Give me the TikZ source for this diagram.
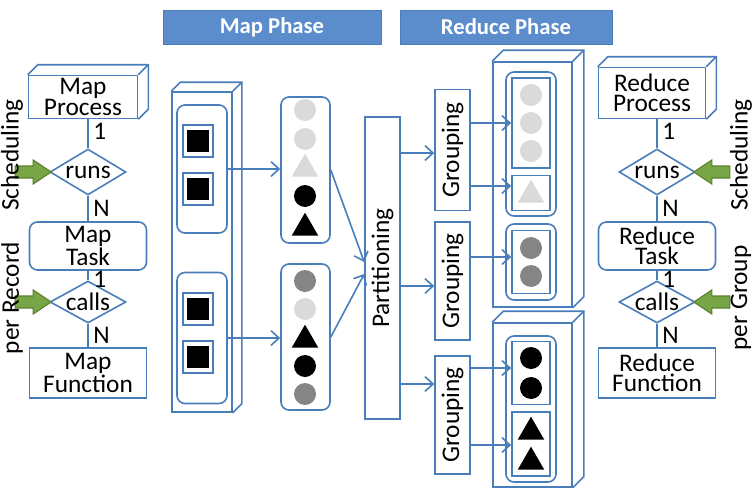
\documentclass[tikz,border=0pt]{standalone}
\usepackage{fontspec}
\setmainfont{Carlito}
\usetikzlibrary{shapes.geometric,calc,arrows.meta}
\definecolor{bl}{HTML}{4A7EBB}
\definecolor{hd}{HTML}{5B8DCC}
\definecolor{gr}{HTML}{78A545}
\definecolor{grd}{HTML}{5A8030}
\definecolor{lg}{HTML}{DADADA}
\definecolor{mg}{HTML}{858585}
\newcommand\cubeit[2]{\draw[ln] (#1.north west) -- ++(#2,-#2) -- ($(#1.north east)+(#2,-#2)$) -- ($(#1.south east)+(#2,-#2)$) -- (#1.south east); \draw[ln] (#1.north east) -- ++(#2,-#2);}
\begin{document}
\begin{tikzpicture}[x=0.75pt,y=-0.75pt,font=\fontsize{19}{15}\selectfont,
  ln/.style={draw=bl,line width=1.2pt},
  sz/.style 2 args={minimum width=#1*0.75pt,minimum height=#2*0.75pt},
  box/.style={ln,rectangle,inner sep=0pt,align=center,fill=white},
  rbox/.style={box,rounded corners=6pt},
  dia/.style={ln,diamond,inner sep=0pt,fill=white},
  dt/.style={inner sep=0pt},
  head/.style={rectangle,fill=hd,draw=bl,text=white,font=\fontsize{17}{17}\selectfont\bfseries,inner sep=0pt},
  arr/.style={draw=bl,line width=1.2pt,-{Straight Barb[length=6pt,width=11pt]}},
  garrow/.style={fill=gr,draw=grd,line width=0.8pt},
  lc/.style={circle,fill=lg,inner sep=0pt,minimum size=16.5pt},
  mc/.style={circle,fill=mg,inner sep=0pt,minimum size=16.5pt},
  kc/.style={circle,fill=black,inner sep=0pt,minimum size=16.5pt},
  lt/.style={regular polygon,regular polygon sides=3,fill=lg,inner sep=0pt,minimum size=23pt},
  kt/.style={regular polygon,regular polygon sides=3,fill=black,inner sep=0pt,minimum size=23pt},
  num/.style={anchor=west,inner sep=0pt},
  side/.style={rotate=90,font=\fontsize{19}{19}\selectfont}]
\useasboundingbox (0,0) rectangle (753,489);
% headers
\node[head,sz={218}{34}] (hm) at (272,27) {Map Phase};
\node[head,sz={212}{34}] (hr) at (506,27) {Reduce Phase};
% left column
\node[box,sz={109}{43}] (mp) at (83,97) {Map\\Process};
\cubeit{mp}{10}
\node[dia,sz={76}{46}] (r1) at (88,172) {};
\node[dt] (r1t) at (r1) {runs};
\node[rbox,sz={117}{48}] (mt) at (88,246) {Map\\Task};
\node[dia,sz={76}{42}] (c1) at (88,302) {};
\node[dt] (c1t) at (c1) {calls};
\node[box,sz={117}{50}] (mf) at (88,373) {Map\\Function};
\draw[ln] (r1.north |- mp.south) -- (r1.north);
\draw[ln] (r1.south) -- (mt.north);
\draw[ln] (mt.south) -- (c1.north);
\draw[ln] (c1.south) -- (mf.north);
\node[num] (n1) at (93,131) {1};
\node[num] (n2) at (93,208) {N};
\node[num] (n3) at (93,279) {1};
\node[num] (n4) at (93,335) {N};
\draw[garrow] ($(r1.west)+(-34,-6)$) -- ++(18,0) -- ++(0,-6) -- ($(r1.west)+(2,0)$) -- ($(r1.west)+(-16,12)$) -- ++(0,-6) -- ++(-18,0) -- cycle;
\draw[garrow] ($(c1.west)+(-34,-6)$) -- ++(18,0) -- ++(0,-6) -- ($(c1.west)+(2,0)$) -- ($(c1.west)+(-16,12)$) -- ++(0,-6) -- ++(-18,0) -- cycle;
\node[side] (s1) at (12,155) {Scheduling};
\node[side] (s2) at (12,298) {per Record};
% map phase
\node[box,sz={60}{320}] (mb) at (202,252) {};
\cubeit{mb}{9}
\node[rbox,sz={50}{128}] (mi1) at (202,169) {};
\node[rbox,sz={50}{131}] (mi2) at (202,338) {};
\foreach \i/\y in {1/141,2/189,3/309,4/357}{
  \node[box,sz={30}{32}] (sq\i) at (198,\y) {};
  \node[fill=black,inner sep=0pt,minimum size=16pt] (bk\i) at (sq\i) {};
}
\node[rbox,sz={49}{146}] (l1) at (305.5,170) {};
\node[rbox,sz={49}{146}] (l2) at (305.5,337) {};
\node[lc] (u1) at (305,110) {};
\node[lc] (u2) at (305,139) {};
\node[lt] (u3) at (305,169) {};
\node[kc] (u4) at (305,196) {};
\node[kt] (u5) at (305,228) {};
\node[mc] (v1) at (305,281) {};
\node[lc] (v2) at (305,309) {};
\node[kt] (v3) at (305,340) {};
\node[kc] (v4) at (305,366) {};
\node[mc] (v5) at (305,394) {};
\draw[arr] (mi1.east) -- (l1.west |- mi1.east);
\draw[arr] (mi2.east) -- (l2.west |- mi2.east);
\node[box,sz={35}{302}] (pt) at (382.5,268) {};
\node[rotate=90] (ptt) at (pt) {Partitioning};
\draw[arr] (l1.east) -- ($(pt.west)+(0,-6)$);
\draw[arr] (l2.east) -- ($(pt.west)+(0,6)$);
% grouping
\node[box,sz={35}{121}] (g1) at (452.5,150) {};
\node[box,sz={35}{118}] (g2) at (452.5,281) {};
\node[box,sz={35}{118}] (g3) at (452.5,415) {};
\foreach \g in {g1,g2,g3}{\node[rotate=90] (\g t) at (\g) {Grouping};}
\draw[arr] (pt.east |- 0,153) -- (g1.west |- 0,153);
\draw[arr] (pt.east |- 0,286) -- (g2.west |- 0,286);
\draw[arr] (pt.east |- 0,384) -- (g3.west |- 0,384);
% reduce boxes
\node[box,sz={79}{245}] (R1) at (532.5,184.5) {};
\cubeit{R1}{11}
\node[box,sz={79}{164}] (R2) at (532.5,405) {};
\cubeit{R2}{11}
\node[rbox,sz={50}{144}] (q1) at (531,144) {};
\node[rbox,sz={50}{76}] (q2) at (531,262) {};
\node[rbox,sz={50}{146}] (q3) at (531,409) {};
\node[box,sz={38}{90}] (a1) at (531,123) {};
\node[box,sz={38}{35}] (a2) at (531,193) {};
\node[box,sz={38}{63}] (a3) at (531,262) {};
\node[box,sz={38}{63}] (a4) at (531,373) {};
\node[box,sz={38}{64}] (a5) at (531,444) {};
\node[lc] (w1) at (531,95) {};
\node[lc] (w2) at (531,123) {};
\node[lc] (w3) at (531,151) {};
\node[lt] (w4) at (531,195) {};
\node[mc] (w5) at (531,248) {};
\node[mc] (w6) at (531,276) {};
\node[kc] (w7) at (531,358) {};
\node[kc] (w8) at (531,388) {};
\node[kt] (w9) at (531,432) {};
\node[kt] (w10) at (531,462) {};
\draw[arr] (g1.east |- 0,123) -- (a1.west |- 0,123);
\draw[arr] (g1.east |- 0,186) -- (a2.west |- 0,186);
\draw[arr] (g2.east |- 0,257) -- (a3.west |- 0,257);
\draw[arr] (g3.east |- 0,368) -- (a4.west |- 0,368);
\draw[arr] (g3.east |- 0,445) -- (a5.west |- 0,445);
% right column
\node[box,sz={107}{51}] (rp) at (652,93) {Reduce\\Process};
\cubeit{rp}{10}
\node[dia,sz={76}{46}] (r2) at (657,172) {};
\node[dt] (r2t) at (r2) {runs};
\node[rbox,sz={117}{48}] (rt) at (657,246) {Reduce\\Task};
\node[dia,sz={76}{42}] (c2) at (657,302) {};
\node[dt] (c2t) at (c2) {calls};
\node[box,sz={117}{50}] (rf) at (657,373) {Reduce\\Function};
\draw[ln] (r2.north |- rp.south) -- (r2.north);
\draw[ln] (r2.south) -- (rt.north);
\draw[ln] (rt.south) -- (c2.north);
\draw[ln] (c2.south) -- (rf.north);
\node[num] (m1) at (662,131) {1};
\node[num] (m2) at (662,208) {N};
\node[num] (m3) at (662,279) {1};
\node[num] (m4) at (662,335) {N};
\draw[garrow] ($(r2.east)+(34,-6)$) -- ++(-18,0) -- ++(0,-6) -- ($(r2.east)+(-2,0)$) -- ($(r2.east)+(16,12)$) -- ++(0,-6) -- ++(18,0) -- cycle;
\draw[garrow] ($(c2.east)+(34,-6)$) -- ++(-18,0) -- ++(0,-6) -- ($(c2.east)+(-2,0)$) -- ($(c2.east)+(16,12)$) -- ++(0,-6) -- ++(18,0) -- cycle;
\node[side] (s3) at (741,155) {Scheduling};
\node[side] (s4) at (741,298) {per Group};
\end{tikzpicture}
\end{document}
